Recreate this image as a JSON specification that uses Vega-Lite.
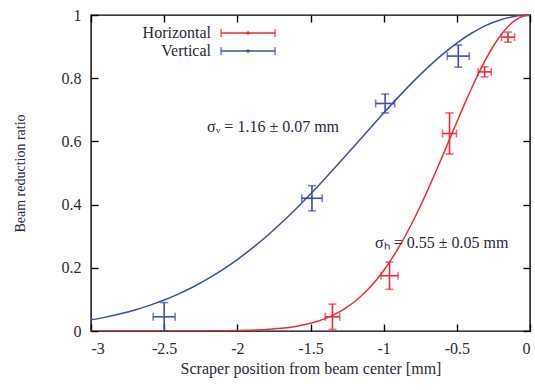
{
  "$schema": "https://vega.github.io/schema/vega-lite/v6.json",
  "width": 439,
  "height": 316,
  "autosize": {"type": "none"},
  "padding": {"left": 91, "top": 15, "right": 5, "bottom": 59},
  "background": "white",
  "config": {
    "view": {"stroke": "#000", "strokeWidth": 1.4, "fill": null},
    "font": "Liberation Serif",
    "axis": {"grid": false, "domain": false, "zindex": 1, "ticks": true, "tickColor": "#000", "tickOpacity": 1, "tickWidth": 1.4, "tickSize": 7, "offset": -7, "labelFont": "Liberation Serif", "titleFont": "Liberation Serif", "labelColor": "#2a2a3a", "titleColor": "#2a2a3a", "titleFontWeight": "normal"}
  },
  "datasets": {
    "curves": [
      {"series": "Vertical", "x": -3.0, "y": 0.0353},
      {"series": "Vertical", "x": -2.9, "y": 0.0439},
      {"series": "Vertical", "x": -2.8, "y": 0.0543},
      {"series": "Vertical", "x": -2.7, "y": 0.0666},
      {"series": "Vertical", "x": -2.6, "y": 0.0811},
      {"series": "Vertical", "x": -2.5, "y": 0.098},
      {"series": "Vertical", "x": -2.4, "y": 0.1176},
      {"series": "Vertical", "x": -2.3, "y": 0.1401},
      {"series": "Vertical", "x": -2.2, "y": 0.1656},
      {"series": "Vertical", "x": -2.1, "y": 0.1942},
      {"series": "Vertical", "x": -2.0, "y": 0.2262},
      {"series": "Vertical", "x": -1.9, "y": 0.2615},
      {"series": "Vertical", "x": -1.8, "y": 0.3},
      {"series": "Vertical", "x": -1.7, "y": 0.3417},
      {"series": "Vertical", "x": -1.6, "y": 0.3862},
      {"series": "Vertical", "x": -1.5, "y": 0.4334},
      {"series": "Vertical", "x": -1.4, "y": 0.4828},
      {"series": "Vertical", "x": -1.3, "y": 0.5337},
      {"series": "Vertical", "x": -1.2, "y": 0.5856},
      {"series": "Vertical", "x": -1.1, "y": 0.6379},
      {"series": "Vertical", "x": -1.0, "y": 0.6896},
      {"series": "Vertical", "x": -0.9, "y": 0.7401},
      {"series": "Vertical", "x": -0.8, "y": 0.7883},
      {"series": "Vertical", "x": -0.7, "y": 0.8335},
      {"series": "Vertical", "x": -0.6, "y": 0.8748},
      {"series": "Vertical", "x": -0.5, "y": 0.9113},
      {"series": "Vertical", "x": -0.4, "y": 0.9423},
      {"series": "Vertical", "x": -0.3, "y": 0.9671},
      {"series": "Vertical", "x": -0.2, "y": 0.9852},
      {"series": "Vertical", "x": -0.1, "y": 0.9963},
      {"series": "Vertical", "x": 0.0, "y": 1.0},
      {"series": "Horizontal", "x": -3.0, "y": 0.0},
      {"series": "Horizontal", "x": -2.5, "y": 0.00003},
      {"series": "Horizontal", "x": -2.2, "y": 0.0003},
      {"series": "Horizontal", "x": -2.0, "y": 0.0013},
      {"series": "Horizontal", "x": -1.9, "y": 0.0026},
      {"series": "Horizontal", "x": -1.8, "y": 0.0047},
      {"series": "Horizontal", "x": -1.7, "y": 0.0084},
      {"series": "Horizontal", "x": -1.6, "y": 0.0145},
      {"series": "Horizontal", "x": -1.5, "y": 0.0243},
      {"series": "Horizontal", "x": -1.4, "y": 0.0392},
      {"series": "Horizontal", "x": -1.3, "y": 0.0612},
      {"series": "Horizontal", "x": -1.25, "y": 0.0756},
      {"series": "Horizontal", "x": -1.2, "y": 0.0926},
      {"series": "Horizontal", "x": -1.15, "y": 0.1124},
      {"series": "Horizontal", "x": -1.1, "y": 0.1353},
      {"series": "Horizontal", "x": -1.05, "y": 0.1617},
      {"series": "Horizontal", "x": -1.0, "y": 0.1915},
      {"series": "Horizontal", "x": -0.95, "y": 0.225},
      {"series": "Horizontal", "x": -0.9, "y": 0.2622},
      {"series": "Horizontal", "x": -0.85, "y": 0.303},
      {"series": "Horizontal", "x": -0.8, "y": 0.3472},
      {"series": "Horizontal", "x": -0.75, "y": 0.3947},
      {"series": "Horizontal", "x": -0.7, "y": 0.4449},
      {"series": "Horizontal", "x": -0.65, "y": 0.4974},
      {"series": "Horizontal", "x": -0.6, "y": 0.5516},
      {"series": "Horizontal", "x": -0.55, "y": 0.6065},
      {"series": "Horizontal", "x": -0.5, "y": 0.6615},
      {"series": "Horizontal", "x": -0.45, "y": 0.7156},
      {"series": "Horizontal", "x": -0.4, "y": 0.7676},
      {"series": "Horizontal", "x": -0.35, "y": 0.8167},
      {"series": "Horizontal", "x": -0.3, "y": 0.8618},
      {"series": "Horizontal", "x": -0.25, "y": 0.9019},
      {"series": "Horizontal", "x": -0.2, "y": 0.936},
      {"series": "Horizontal", "x": -0.15, "y": 0.9635},
      {"series": "Horizontal", "x": -0.1, "y": 0.9836},
      {"series": "Horizontal", "x": -0.05, "y": 0.9959},
      {"series": "Horizontal", "x": 0.0, "y": 1.0}
    ],
    "points": [
      {"series": "Vertical", "x": -2.5, "y": 0.045, "xlo": -2.575, "xhi": -2.425, "ylo": 0.0, "yhi": 0.09},
      {"series": "Vertical", "x": -1.49, "y": 0.42, "xlo": -1.56, "xhi": -1.42, "ylo": 0.38, "yhi": 0.46},
      {"series": "Vertical", "x": -0.99, "y": 0.72, "xlo": -1.055, "xhi": -0.925, "ylo": 0.69, "yhi": 0.75},
      {"series": "Vertical", "x": -0.49, "y": 0.87, "xlo": -0.565, "xhi": -0.415, "ylo": 0.835, "yhi": 0.905},
      {"series": "Horizontal", "x": -1.35, "y": 0.045, "xlo": -1.4, "xhi": -1.3, "ylo": 0.005, "yhi": 0.085},
      {"series": "Horizontal", "x": -0.96, "y": 0.175, "xlo": -1.018, "xhi": -0.902, "ylo": 0.132, "yhi": 0.218},
      {"series": "Horizontal", "x": -0.55, "y": 0.625, "xlo": -0.598, "xhi": -0.502, "ylo": 0.56, "yhi": 0.69},
      {"series": "Horizontal", "x": -0.31, "y": 0.82, "xlo": -0.355, "xhi": -0.265, "ylo": 0.804, "yhi": 0.836},
      {"series": "Horizontal", "x": -0.15, "y": 0.93, "xlo": -0.195, "xhi": -0.105, "ylo": 0.914, "yhi": 0.946}
    ],
    "legend": [
      {"series": "Horizontal", "label": "Horizontal", "xtext": -2.18, "xlo": -2.111, "xhi": -1.742, "xmid": -1.927, "y": 0.943},
      {"series": "Vertical", "label": "Vertical", "xtext": -2.18, "xlo": -2.111, "xhi": -1.742, "xmid": -1.927, "y": 0.886}
    ],
    "notes": [
      {"x": -2.207, "y": 0.646, "text": "σᵥ = 1.16 ± 0.07 mm"},
      {"x": -1.059, "y": 0.278, "text": "σₕ = 0.55 ± 0.05 mm"}
    ]
  },
  "layer": [
    {
      "data": {"name": "curves"},
      "mark": {"type": "line", "strokeWidth": 1.5, "interpolate": "monotone", "clip": true},
      "encoding": {
        "x": {"field": "x", "type": "quantitative", "scale": {"domain": [-3, 0], "nice": false, "zero": false},
          "axis": {"orient": "bottom", "values": [-3, -2.5, -2, -1.5, -1, -0.5, 0], "labelExpr": "toString(datum.value)", "labelPadding": 9, "labelFontSize": 16, "title": "Scraper position from beam center [mm]", "titleFontSize": 16, "titlePadding": 4}},
        "y": {"field": "y", "type": "quantitative", "scale": {"domain": [0, 1], "nice": false},
          "axis": {"orient": "left", "values": [0, 0.2, 0.4, 0.6, 0.8, 1], "labelExpr": "toString(datum.value)", "labelPadding": 10, "labelFontSize": 16, "title": "Beam reduction ratio", "titleFontSize": 14, "titlePadding": 34}},
        "color": {"field": "series", "type": "nominal", "scale": {"domain": ["Horizontal", "Vertical"], "range": ["#ee2b33", "#3d4fa6"]}, "legend": null},
        "detail": {"field": "series"}
      }
    },
    {
      "data": {"name": "points"},
      "mark": {"type": "errorbar", "ticks": true, "size": 8, "thickness": 1.6},
      "encoding": {
        "x": {"field": "x", "type": "quantitative", "axis": {"orient": "top", "values": [-3, -2.5, -2, -1.5, -1, -0.5, 0], "labels": false, "title": null}},
        "y": {"field": "ylo", "type": "quantitative", "axis": {"orient": "right", "values": [0, 0.2, 0.4, 0.6, 0.8, 1], "labels": false, "title": null}},
        "y2": {"field": "yhi"},
        "color": {"field": "series", "type": "nominal", "legend": null}
      }
    },
    {
      "data": {"name": "points"},
      "mark": {"type": "errorbar", "ticks": true, "size": 8, "thickness": 1.6},
      "encoding": {
        "y": {"field": "y", "type": "quantitative", "axis": null},
        "x": {"field": "xlo", "type": "quantitative", "axis": null},
        "x2": {"field": "xhi"},
        "color": {"field": "series", "type": "nominal", "legend": null}
      }
    },
    {
      "data": {"name": "legend"},
      "mark": {"type": "errorbar", "ticks": true, "size": 8, "thickness": 1.6},
      "encoding": {
        "y": {"field": "y", "type": "quantitative", "axis": null},
        "x": {"field": "xlo", "type": "quantitative", "axis": null},
        "x2": {"field": "xhi"},
        "color": {"field": "series", "type": "nominal", "legend": null}
      }
    },
    {
      "data": {"name": "legend"},
      "mark": {"type": "point", "filled": true, "size": 12, "opacity": 1},
      "encoding": {
        "y": {"field": "y", "type": "quantitative", "axis": null},
        "x": {"field": "xmid", "type": "quantitative", "axis": null},
        "color": {"field": "series", "type": "nominal", "legend": null}
      }
    },
    {
      "data": {"name": "legend"},
      "mark": {"type": "text", "align": "right", "baseline": "middle", "fontSize": 16, "font": "Liberation Serif", "color": "#2a2a3a"},
      "encoding": {
        "y": {"field": "y", "type": "quantitative", "axis": null},
        "x": {"field": "xtext", "type": "quantitative", "axis": null},
        "text": {"field": "label"}
      }
    },
    {
      "data": {"name": "notes"},
      "mark": {"type": "text", "align": "left", "baseline": "middle", "fontSize": 16, "font": "Liberation Serif", "color": "#2a2a3a"},
      "encoding": {
        "y": {"field": "y", "type": "quantitative", "axis": null},
        "x": {"field": "x", "type": "quantitative", "axis": null},
        "text": {"field": "text"}
      }
    }
  ]
}
